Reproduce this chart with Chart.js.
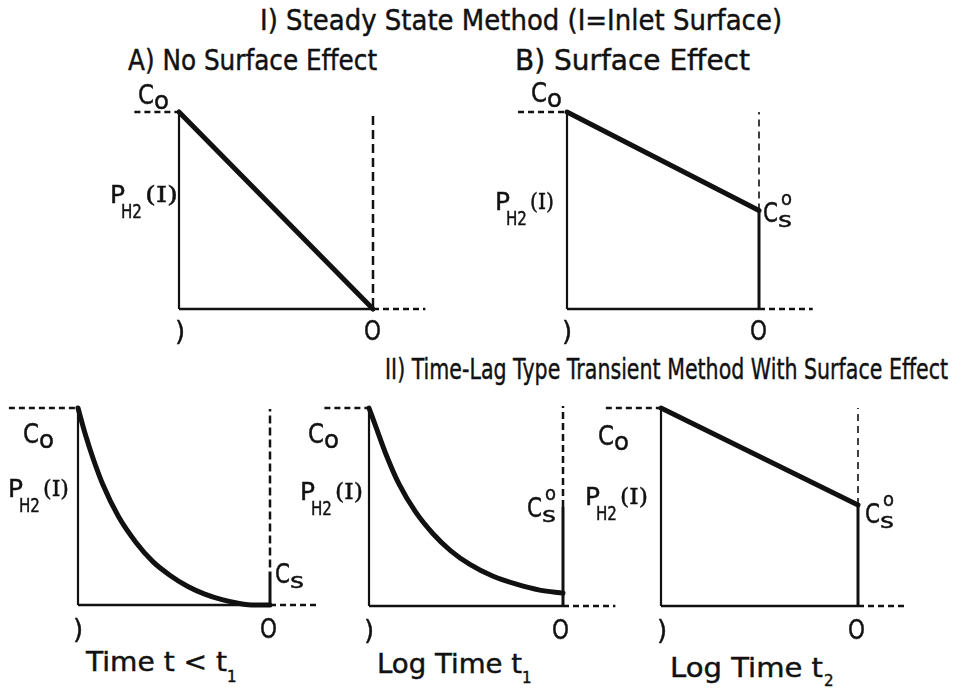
<!DOCTYPE html>
<html>
<head>
<meta charset="utf-8">
<script src="https://cdn.jsdelivr.net/npm/chart.js@4.4.1/dist/chart.umd.min.js"></script>
<style>
  html, body { margin: 0; padding: 0; background: #fff; }
  #stage { position: relative; width: 955px; height: 688px; overflow: hidden; background: #fff; }
  #stage canvas { position: absolute; }
  .t { position: absolute; white-space: nowrap; line-height: 1; color: #111;
       font-family: "DejaVu Sans", "Liberation Sans", sans-serif; transform-origin: 0 0;
       -webkit-text-stroke: 0.45px #111; -webkit-font-smoothing: antialiased; }
  .t.serif { font-family: "DejaVu Serif", "Liberation Serif", serif; }
</style>
</head>
<body>
<div id="stage"></div>
<script>
// Concentration at the inlet face (normalised) for every profile
const inletLevel = 1;

// I-A) steady state, no surface effect: linear profile from C0 to zero
const depthA = [0, 1];
const concA  = [1, 0];

// I-B) steady state with surface effect: linear profile down to Cs°
const depthB = [0, 1];
const concB  = [1, 0.5];
const surfaceB = 0.5;

// II) transient, t < t1: steep decay, Cs at the outlet
const depthC = [0, 0.04, 0.08, 0.13, 0.21, 0.30, 0.39, 0.48, 0.57, 0.66, 0.75, 0.84, 0.92, 1];
const concC  = [1, 0.86, 0.74, 0.61, 0.45, 0.32, 0.22, 0.15, 0.095, 0.055, 0.027, 0.008, 0, 0];
const surfaceC = 0.17;

// II) transient, log time t1
const depthD = [0, 0.03, 0.09, 0.155, 0.24, 0.33, 0.42, 0.52, 0.64, 0.76, 0.88, 1];
const concD  = [1, 0.92, 0.76, 0.615, 0.475, 0.365, 0.28, 0.21, 0.15, 0.11, 0.08, 0.065];
const surfaceD = 0.5;

// II) transient, log time t2: near linear profile down to Cs°
const depthE = [0, 1];
const concE  = [1, 0.51];
const surfaceE = 0.51;

const stage = document.getElementById('stage');

// One small diagram per profile: box = [inlet x, outlet x, top y, bottom y] in px
const panels = [
  { box: [179, 373, 112, 309], depth: depthA, conc: concA, surface: 0, curved: false,
    lead: 0.23, tail: 0.27, dashSpan: [0.01, 0.985], dashW: 2.5, dash: [9, 5] },
  { box: [567, 759, 112, 309], depth: depthB, conc: concB, surface: surfaceB, curved: false,
    lead: 0.255, tail: 0.28, dashSpan: [surfaceB, 1], dashW: 1.6, dash: [7, 5] },
  { box: [78, 270, 408, 605], depth: depthC, conc: concC, surface: surfaceC, curved: true,
    lead: 0.36, tail: 0.26, dashSpan: [0.19, 0.995], dashW: 2.5, dash: [8, 4] },
  { box: [369, 563, 408, 606], depth: depthD, conc: concD, surface: surfaceD, curved: true,
    lead: 0.23, tail: 0.27, dashSpan: [surfaceD, 1.01], dashW: 2.5, dash: [7, 4] },
  { box: [661, 858, 408, 606], depth: depthE, conc: concE, surface: surfaceE, curved: false,
    lead: 0.28, tail: 0.24, dashSpan: [surfaceE, 1], dashW: 1.6, dash: [7, 5] }
];

const ink = '#111';

function seg(points, width, dash) {
  return { data: points, borderColor: ink, borderWidth: width, borderDash: dash || [],
           pointRadius: 0, fill: false, tension: 0 };
}

function makePanel(p) {
  const [x0, x1, yT, yB] = p.box;
  const padL = 80, padR = 70, padT = 12, padB = 12;
  const sx = x1 - x0, sy = yB - yT;
  const W = sx + padL + padR, H = sy + padT + padB;
  const cv = document.createElement('canvas');
  cv.width = W; cv.height = H;
  cv.style.left = (x0 - padL) + 'px';
  cv.style.top = (yT - padT) + 'px';
  cv.style.width = W + 'px';
  cv.style.height = H + 'px';
  stage.appendChild(cv);

  const profile = {
    data: p.depth.map((d, i) => ({ x: d, y: p.conc[i] })),
    borderColor: ink, borderWidth: 5, pointRadius: 0, fill: false,
    cubicInterpolationMode: p.curved ? 'monotone' : 'default', tension: 0,
    borderJoinStyle: 'round', borderCapStyle: 'round'
  };
  const datasets = [
    seg([{ x: 0, y: 0 }, { x: 0, y: inletLevel }], 2.2),
    seg([{ x: 0, y: 0 }, { x: 1, y: 0 }], 2.6),
    seg([{ x: -p.lead, y: inletLevel }, { x: 0, y: inletLevel }], 2.6, [6, 4]),
    seg([{ x: 1, y: 0 }, { x: 1 + p.tail, y: 0 }], 2.6, [6, 4]),
    seg([{ x: 1, y: p.dashSpan[0] }, { x: 1, y: p.dashSpan[1] }], p.dashW, p.dash),
    profile
  ];
  if (p.surface > 0) datasets.push(seg([{ x: 1, y: 0 }, { x: 1, y: p.surface }], 3));

  new Chart(cv, {
    type: 'line',
    data: { datasets },
    options: {
      responsive: false, animation: false, events: [],
      layout: { padding: 0 },
      scales: {
        x: { type: 'linear', display: false, min: -padL / sx, max: 1 + padR / sx },
        y: { type: 'linear', display: false, min: -padB / sy, max: 1 + padT / sy }
      },
      plugins: { legend: { display: false }, tooltip: { enabled: false } }
    }
  });
}
panels.forEach(makePanel);

// Text: placed by left edge and baseline; optional width squeezes the lettering
function put(text, x, baseline, size, width, cls) {
  const el = document.createElement('div');
  el.className = 't' + (cls ? ' ' + cls : '');
  el.textContent = text;
  el.style.fontSize = size + 'px';
  el.style.left = x + 'px';
  el.style.top = (baseline - 0.846 * size) + 'px';
  stage.appendChild(el);
  if (width) {
    const w = el.getBoundingClientRect().width;
    if (w > 0) el.style.transform = 'scaleX(' + (width / w).toFixed(3) + ')';
  }
  return el;
}

// headings
put('I) Steady State Method (I=Inlet Surface)', 260, 31, 29, 522);
put('A) No Surface Effect', 128, 71, 28, 249);
put('B) Surface Effect', 515, 71, 28, 235);
put('II) Time-Lag Type Transient Method With Surface Effect', 385, 380, 29, 563);

// time labels under the lower row
put('Time t < t', 86, 671, 27, 141); put('1', 227, 683, 15);
put('Log Time t', 377, 673, 27, 145); put('1', 522, 684, 15);
put('Log Time t', 670, 677, 27, 153); put('2', 824, 687, 15);

// C0 at the inlet
function c0(x, b) { put('C', x, b, 26, 16); put('o', x + 16, b + 5, 24, 15); }
c0(138, 104); c0(531, 102); c0(23, 443); c0(308, 443); c0(598, 445);

// P_H2(I) beside the inlet face
function pH2(x, b, wI) {
  put('P', x, b, 24, 15);
  put('H2', x + 11, b + 15, 19, 21);
  put('(I)', x + 35, b, 22, wI, 'serif');
}
pH2(110, 203, 33); pH2(495, 210, 24); pH2(8, 497, 26); pH2(300, 500, 28); pH2(585, 505, 28);

// surface concentration at the outlet
function cs(x, b, zero) {
  put('C', x, b, 26, 15); put('s', x + 15, b + 6, 22, 14);
  if (zero) put('o', x + 18, b - 17, 19, 11);
}
cs(763, 222, true); cs(275, 583, false); cs(527, 517, true); cs(865, 523, true);

// inlet / outlet marks under each diagram
function ends(xi, xo, b) { put(')', xi, b, 26); put('O', xo, b, 26, 17); }
ends(175, 364, 340); ends(562, 750, 340); ends(73, 260, 638); ends(364, 552, 639); ends(657, 848, 639);
</script>
</body>
</html>
